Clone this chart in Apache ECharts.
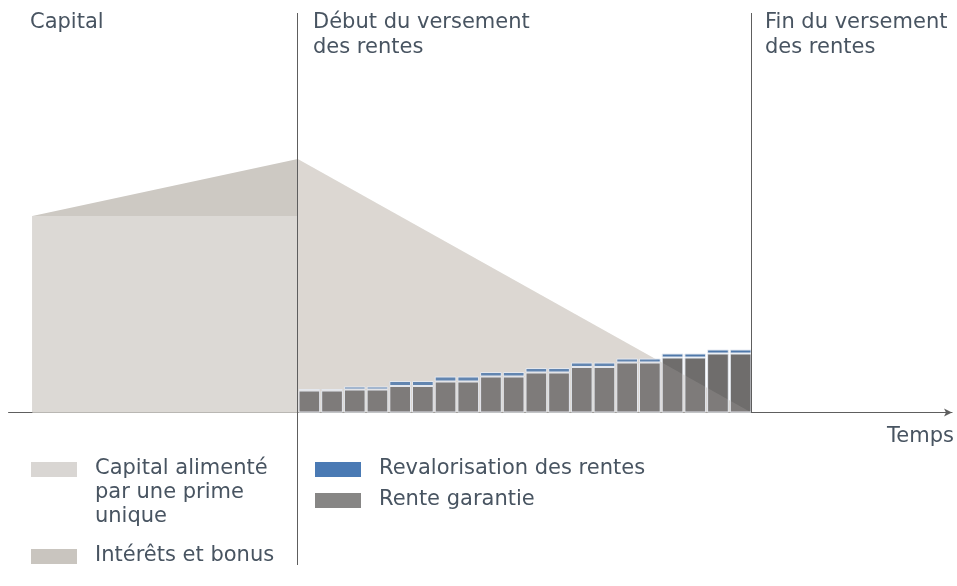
<!DOCTYPE html>
<html lang="fr">
<head>
    <meta charset="UTF-8">
    <title>Capital et rentes</title>
    <script src="https://cdn.jsdelivr.net/npm/echarts@6/dist/echarts.min.js"></script>
    <style>
        html, body { margin: 0; padding: 0; background: #fff; }
        #chart { width: 957px; height: 586px; }
    </style>
</head>
<body>
<div id="chart"></div>
<script type="text/javascript">
    // phase de constitution (temps en années, 0 = début du versement)
    var capitalTime = [-11.7, 0];
    var capitalValues = [98.25, 98.25];
    var interetsValues = [98.25, 126.75];

    // phase de versement : capital restant
    var versementTime = [0, 20];
    var versementValues = [126.75, 0];

    // rentes annuelles
    var years = ['1', '2', '3', '4', '5', '6', '7', '8', '9', '10',
        '11', '12', '13', '14', '15', '16', '17', '18', '19', '20'];
    var renteGarantie = [11, 11, 11.5, 11.5, 13.25, 13.25, 15.5, 15.5, 18, 18,
        20, 20, 22.75, 22.75, 25, 25, 27.5, 27.5, 29.5, 29.5];
    var revalorisation = [0.75, 0.75, 1.5, 1.5, 2.5, 2.5, 2.5, 2.5, 2.25, 2.25,
        2.25, 2.25, 2.25, 2.25, 2, 2, 2, 2, 2, 2];

    var headings = ['Capital', 'Début du versement\ndes rentes', 'Fin du versement\ndes rentes'];
    var legendLeft = ['Capital alimenté\npar une prime\nunique', 'Intérêts et bonus'];
    var legendRight = ['Revalorisation des rentes', 'Rente garantie'];

    var FONT = '"DejaVu Sans", "Liberation Sans", sans-serif';
    var TEXT = '#485461';
    var LINE = '#5e5e5e';
    var C_CAPITAL = '#dcd9d5', C_INTERETS = '#cdc9c3', C_VERSEMENT = '#dcd8d2';
    var C_BLUE = '#4f78aa', C_GRAY = '#6f6d6c';
    var Y_MIN = -76.25, Y_MAX = 199.75;

    function pairs(xs, ys) {
        return xs.map(function (x, i) { return [x, ys[i]]; });
    }

    var chart = echarts.init(document.getElementById('chart'));

    var legendItems = [];
    function legendRow(x, y, color, label) {
        legendItems.push({
            type: 'rect', left: x, top: y - 7, shape: { width: 46, height: 15 },
            style: { fill: color }, silent: true
        });
        legendItems.push({
            type: 'text', left: x + 64, top: y - 12,
            style: { text: label, fill: TEXT, font: '21px ' + FONT, lineHeight: 24 },
            silent: true
        });
    }
    legendRow(31, 469, '#d9d6d3', legendLeft[0]);
    legendRow(31, 556, '#c9c5bf', legendLeft[1]);
    legendRow(315, 469, '#4a7ab4', legendRight[0]);
    legendRow(315, 500, '#878685', legendRight[1]);

    // triangle du capital restant (fond, puis voile léger par-dessus les rentes)
    function versementSeries(extra) {
        var s = {
            name: 'Versement',
            type: 'line',
            data: pairs(versementTime, versementValues),
            symbol: 'none',
            lineStyle: { width: 0 },
            areaStyle: { color: C_VERSEMENT, opacity: 1 },
            silent: true
        };
        for (var k in extra) s[k] = extra[k];
        return s;
    }

    var option = {
        animation: false,
        title: [
            { text: headings[0], left: 30, top: 10 },
            { text: headings[1], left: 313, top: 10 },
            { text: headings[2], left: 765, top: 10 }
        ].map(function (t) {
            t.textStyle = { fontFamily: FONT, fontSize: 21, fontWeight: 'normal', color: TEXT, lineHeight: 25 };
            t.padding = 0;
            return t;
        }),
        grid: [
            { left: 8.6, right: 4.1, top: 13, bottom: 21 },
            // grille des rentes : de "Début" (x=0) à "Fin" (x=20)
            { left: 298, right: 205, top: 13, bottom: 21 }
        ],
        xAxis: [
            {
                type: 'value',
                gridIndex: 0,
                min: -12.75,
                max: 28.85,
                name: 'Temps',
                nameLocation: 'end',
                nameGap: 2,
                nameTextStyle: {
                    fontFamily: FONT, fontSize: 21, color: TEXT,
                    align: 'right', verticalAlign: 'top', padding: [14, 0, 0, 0]
                },
                axisLine: {
                    onZero: true,
                    symbol: ['none', 'arrow'],
                    symbolSize: [6, 8],
                    lineStyle: { color: LINE, width: 1.2 }
                },
                axisTick: { show: false },
                axisLabel: { show: false },
                splitLine: { show: false }
            },
            {
                type: 'category',
                gridIndex: 1,
                data: years,
                show: false
            }
        ],
        yAxis: [
            { type: 'value', gridIndex: 0, min: Y_MIN, max: Y_MAX, show: false, splitLine: { show: false } },
            { type: 'value', gridIndex: 1, min: Y_MIN, max: Y_MAX, show: false, splitLine: { show: false } }
        ],
        graphic: legendItems,
        series: [
            {
                name: legendLeft[1],
                type: 'line',
                data: pairs(capitalTime, interetsValues),
                symbol: 'none',
                lineStyle: { width: 0 },
                areaStyle: { color: C_INTERETS, opacity: 1 },
                silent: true
            },
            {
                name: legendLeft[0],
                type: 'line',
                data: pairs(capitalTime, capitalValues),
                symbol: 'none',
                lineStyle: { width: 0 },
                areaStyle: { color: C_CAPITAL, opacity: 1 },
                silent: true
            },
            versementSeries({
                markLine: {
                    silent: true,
                    symbol: 'none',
                    label: { show: false },
                    lineStyle: { color: LINE, width: 1, type: 'solid' },
                    data: [
                        { xAxis: 0 },
                        [{ coord: [20, 0] }, { coord: [20, Y_MAX] }]
                    ]
                }
            }),
            {
                name: legendRight[1],
                type: 'bar',
                xAxisIndex: 1,
                yAxisIndex: 1,
                stack: 'rente',
                barWidth: 21.7,
                z: 3,
                data: renteGarantie,
                itemStyle: { color: C_GRAY, borderColor: '#e6ebf2', borderWidth: 1 }
            },
            {
                name: legendRight[0],
                type: 'bar',
                xAxisIndex: 1,
                yAxisIndex: 1,
                stack: 'rente',
                barWidth: 21.7,
                z: 3,
                data: revalorisation,
                itemStyle: { color: C_BLUE, borderColor: '#e6ebf2', borderWidth: 1 }
            },
            versementSeries({ z: 4, areaStyle: { color: C_VERSEMENT, opacity: 0.14 } })
        ]
    };

    chart.setOption(option);
    window.onresize = function () {
        chart.resize();
    };
</script>
</body>
</html>
